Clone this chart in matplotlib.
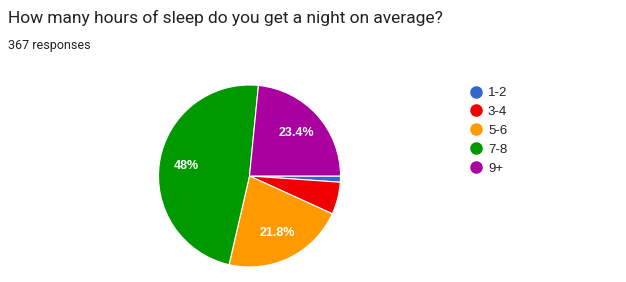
import matplotlib
matplotlib.use("Agg")
import matplotlib.pyplot as plt
from matplotlib.lines import Line2D

title = "How many hours of sleep do you get a night on average?"
subtitle = "367 responses"
labels = ["1-2", "3-4", "5-6", "7-8", "9+"]
counts = [4, 21, 80, 176, 86]
colors = ["#3366cc", "#f00000", "#ff9900", "#009900", "#aa00a0"]

W, H = 626, 282
fig = plt.figure(figsize=(W / 100, H / 100), dpi=100)

fig.text(8 / W, 1 - 18 / H, title, fontsize=12.5, family="Roboto",
         color="#202124", va="center", ha="left")
fig.text(8 / W, 1 - 45 / H, subtitle, fontsize=9, family="Roboto",
         color="#202124", va="center", ha="left")

# pie axes: centre (249.5, 176) px, radius 91 px
cx, cy, r = 249.5, 176, 91
ax = fig.add_axes([(cx - r) / W, (H - cy - r) / H, 2 * r / W, 2 * r / H])


def pct(p):
    if p < 10:
        return ""
    s = f"{p:.1f}"
    if s.endswith(".0"):
        s = s[:-2]
    return s + "%"


wedges, texts, autotexts = ax.pie(
    counts, colors=colors, startangle=0, counterclock=False,
    autopct=pct, pctdistance=0.7,
    wedgeprops=dict(edgecolor="white", linewidth=0.8),
    textprops=dict(color="white", fontsize=9, fontweight="bold",
                   family="Liberation Sans"))
ax.set_xlim(-1, 1)
ax.set_ylim(-1, 1)
ax.axis("off")

handles = [Line2D([], [], marker="o", linestyle="none", markersize=8,
                  markerfacecolor=c, markeredgecolor=c) for c in colors]
fig.legend(handles, labels, loc="upper left",
           bbox_to_anchor=(470.8 / W, 1 - 87 / H), frameon=False,
           borderpad=0, borderaxespad=0, handlelength=0.8,
           handletextpad=0.5, labelspacing=0.5,
           prop=dict(family="Liberation Sans", size=9.5),
           labelcolor="#222222")

fig.savefig("out.png", dpi=100)
